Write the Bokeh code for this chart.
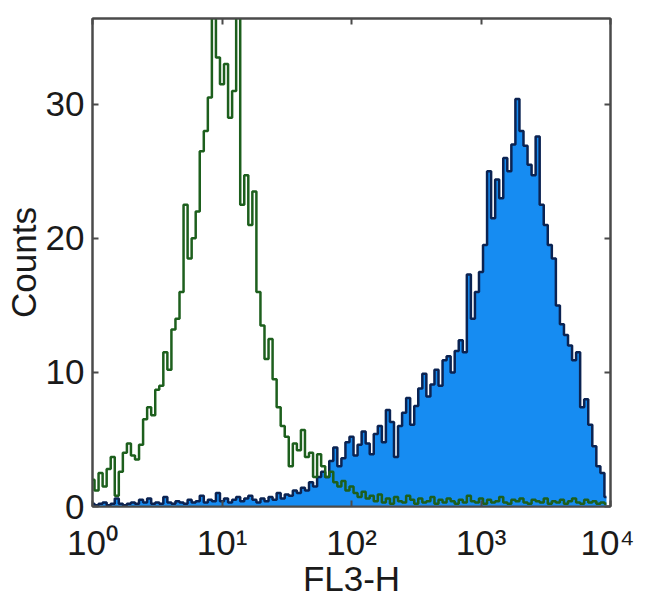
from bokeh.plotting import figure
from bokeh.models import LogAxis, LinearAxis, FixedTicker, Range1d, ColumnDataSource
from bokeh.embed import file_html
from bokeh.resources import INLINE

# channel positions: 32 channels per decade over 4 decades
channels = list(range(128))
channels_per_decade = 32

# isotype control (green outline)
control_counts = [
    2.0, 1.2, 2.5, 1.5, 2.8, 3.7, 0.8, 2.6,
    4.0, 4.7, 3.8, 3.5, 4.6, 6.5, 7.4, 6.8,
    8.7, 9.0, 11.5, 10.2, 13.2, 14.0, 16.0, 22.5,
    18.5, 20.0, 22.0, 26.5, 28.0, 30.5, 37.0, 33.5,
    31.5, 33.0, 29.0, 31.0, 37.0, 22.5, 24.7, 21.0,
    23.5, 16.0, 13.5, 11.0, 12.5, 9.5, 7.4, 6.0,
    5.2, 3.0, 4.7, 4.2, 5.7, 3.7, 4.0, 2.2,
    3.9, 3.0, 2.2, 2.6, 1.8, 1.5, 1.9, 1.2,
    1.5, 1.0, 0.7, 1.1, 0.6, 0.8, 0.4, 0.9,
    0.3, 0.6, 0.2, 0.7, 0.4, 0.3, 0.8, 0.5,
    0.2, 0.6, 0.3, 0.4, 0.7, 0.2, 0.5, 0.3,
    0.6, 0.4, 0.2, 0.5, 0.3, 0.8, 0.4, 0.3,
    0.6, 0.2, 0.5, 0.3, 0.4, 0.7, 0.3, 0.2,
    0.5, 0.4, 0.6, 0.3, 0.2, 0.5, 0.4, 0.3,
    0.6, 0.2, 0.4, 0.3, 0.5, 0.2, 0.4, 0.6,
    0.3, 0.2, 0.5, 0.3, 0.4, 0.2, 0.3, 0.2,
]

# stained sample (blue filled)
stained_counts = [
    0.2, 0.1, 0.2, 0.3, 0.1, 0.2, 0.6, 0.2,
    0.1, 0.2, 0.3, 0.2, 0.5, 0.3, 0.6, 0.2,
    0.3, 0.2, 0.7, 0.3, 0.2, 0.4, 0.3, 0.2,
    0.5, 0.3, 0.4, 0.8, 0.3, 0.5, 0.4, 1.0,
    0.4, 0.6, 0.3, 0.5, 0.7, 0.4, 0.6, 0.8,
    0.5, 0.3, 0.6, 0.4, 0.7, 0.5, 1.0, 0.6,
    0.9, 0.8, 1.2, 1.0, 1.4, 1.2, 1.8, 1.5,
    2.2, 2.6, 2.2, 3.4, 4.4, 3.0, 3.6, 4.8,
    5.2, 3.8, 4.6, 5.6, 4.7, 3.9, 5.4, 6.0,
    4.8, 7.2, 6.3, 3.7, 6.0, 7.0, 8.1, 6.1,
    7.5, 8.8, 9.9, 8.2, 9.1, 10.2, 9.0, 10.9,
    11.2, 10.0, 11.6, 12.4, 11.5, 17.3, 14.0, 16.0,
    17.5, 19.5, 25.0, 21.5, 24.4, 23.0, 26.0, 25.0,
    27.0, 30.4, 28.0, 26.9, 25.5, 24.7, 27.6, 22.5,
    21.0, 19.5, 18.5, 15.0, 13.6, 12.8, 12.0, 10.9,
    11.5, 7.4, 8.0, 6.1, 4.5, 3.0, 2.5, 0.7,
]

x_decade_ticks = [1, 10, 100, 1000, 10000]
x_tick_labels = ["10\u2070", "10\u00b9", "10\u00b2", "10\u00b3", "10\u2074"]
y_ticks = [0, 10, 20, 30]

fl3 = [10 ** (c / channels_per_decade) for c in channels]
src = ColumnDataSource(dict(x=fl3, ctrl=control_counts, stain=stained_counts))

FONT = "Liberation Sans"
AXC = "#4a4a4a"

p = figure(width=634, height=600, x_axis_type="log",
           x_range=Range1d(1, 10000), y_range=Range1d(0, 36.4),
           output_backend="svg", toolbar_location=None,
           min_border_left=84, min_border_right=24,
           min_border_top=18, min_border_bottom=88)
p.grid.visible = False
p.outline_line_color = AXC
p.outline_line_width = 2
p.background_fill_color = "white"
p.border_fill_color = "white"

p.varea_step(x="x", y1=0, y2="stain", step_mode="center", source=src,
             fill_color="#168cf2")
p.step(x="x", y="stain", mode="center", source=src,
       line_color="#0b2352", line_width=2.5)
p.step(x="x", y="ctrl", mode="center", source=src,
       line_color="#1d5f1d", line_width=2.5)

xa = p.xaxis[0]
xa.ticker = FixedTicker(ticks=x_decade_ticks, minor_ticks=[])
xa.major_label_overrides = {t: l for t, l in zip(x_decade_ticks, x_tick_labels)}
ya = p.yaxis[0]
ya.ticker = FixedTicker(ticks=y_ticks, minor_ticks=[])

for ax in (xa, ya):
    ax.axis_line_color = AXC
    ax.axis_line_width = 2
    ax.major_tick_line_color = AXC
    ax.major_tick_line_width = 2
    ax.major_tick_in = 6
    ax.major_tick_out = 0
    ax.minor_tick_line_color = None
    ax.major_label_text_font = FONT
    ax.major_label_text_font_size = "35px"
    ax.major_label_text_color = "#1a1a1a"
    ax.axis_label_text_font = FONT
    ax.axis_label_text_font_size = "35px"
    ax.axis_label_text_font_style = "normal"
    ax.axis_label_text_color = "#1a1a1a"

xa.axis_label = "FL3-H"
xa.major_label_standoff = 16
xa.axis_label_standoff = -6
ya.axis_label = "Counts"
ya.major_label_standoff = 8
ya.axis_label_standoff = 0

top = LogAxis(ticker=FixedTicker(ticks=x_decade_ticks, minor_ticks=[]),
              major_label_text_font_size="2px", major_label_text_color=None,
              major_label_standoff=0,
              axis_line_color=AXC, axis_line_width=2,
              major_tick_line_color=AXC, major_tick_line_width=2,
              major_tick_in=6, major_tick_out=0, minor_tick_line_color=None)
p.add_layout(top, "above")
right = LinearAxis(ticker=FixedTicker(ticks=y_ticks, minor_ticks=[]),
                   major_label_text_font_size="2px", major_label_text_color=None,
                   major_label_standoff=0,
                   axis_line_color=AXC, axis_line_width=2,
                   major_tick_line_color=AXC, major_tick_line_width=2,
                   major_tick_in=6, major_tick_out=0, minor_tick_line_color=None)
p.add_layout(right, "right")

open("out.html", "w").write(file_html(p, INLINE))
